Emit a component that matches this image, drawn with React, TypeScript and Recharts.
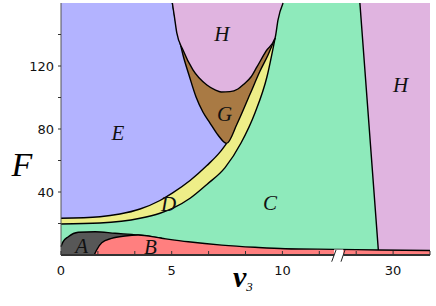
import {
  ComposedChart,
  Area,
  Scatter,
  XAxis,
  YAxis,
  ReferenceArea,
  ReferenceLine,
  Label,
} from "recharts";

// broken v3 axis: 0..12.5 on the left, 22.5..35 after the break
const axisPos = (v: number) => (v <= 12.5 ? v * 0.6 : 9 + (v - 30) / 5);
const breakU = 7.5;

const xTicksV = [0, 5 / 3, 10 / 3, 5, 20 / 3, 25 / 3, 10, 35 / 3, 25, 30, 35];
const xLabelsV = [0, 5, 10, 30];
const yTicks = [20, 40, 60, 80, 100, 120, 140];
const yLabels = [40, 80, 120];

// boundary curves, [v3, F]
const curveDC: [number, number][] = [
  [0, 19.7], [1.76, 20.3], [3.57, 23.3], [4.47, 26.5], [5.06, 29.7], [5.83, 36.0],
  [6.59, 44.8], [7.41, 55.5], [8.13, 71.1], [8.76, 90.2], [9.3, 113.0], [9.67, 137.8],
];
const curveED: [number, number][] = [
  [0, 23.3], [1.76, 24.3], [2.66, 26.0], [3.57, 29.2], [4.47, 34.6], [5.06, 39.6],
  [5.83, 47.3], [6.59, 56.8], [7.18, 65.3], [7.48, 70.9],
];
const curveG: [number, number][] = [
  [5.03, 160], [5.15, 150.5], [5.28, 141.0], [5.51, 127.0], [5.78, 114.3], [6.1, 100.3],
  [6.41, 90.8], [6.73, 83.8], [7.09, 76.2], [7.48, 70.9], [7.95, 83.2], [8.54, 102.2],
  [8.99, 116.8], [9.35, 127.0], [9.67, 137.8],
];
const curveH: [number, number][] = [
  [5.03, 160], [5.13, 150.5], [5.23, 141.0], [5.51, 130.2], [5.96, 117.5], [6.59, 107.9],
  [6.96, 104.8], [7.23, 103.5], [7.63, 103.7], [7.99, 105.4], [8.27, 108.6], [8.58, 113.0],
  [8.85, 119.4], [9.26, 129.5], [9.67, 137.8], [9.8, 149.2], [10.03, 160],
];
const curveHright: [number, number][] = [[25.5, 160], [28.05, 0], [35, 0]];
const curveA: [number, number][] = [
  [0, 5.3], [0.09, 8.3], [0.33, 11.6], [0.78, 14.4], [1.54, 14.8], [2.44, 13.8],
  [3.48, 12.7], [4.55, 10.6],
];
const curveB: [number, number][] = [
  [1.5, 0], [1.61, 3.2], [1.84, 7.8], [2.29, 10.6], [2.89, 12.1], [3.48, 12.7],
  [4.55, 10.6], [5.75, 8.4], [7.26, 6.3], [8.76, 4.9], [10.12, 4.0], [12.5, 3.6],
  [28.05, 3.2], [35, 2.9],
];
const plotTop: [number, number][] = [[0, 160], [35, 160]];

const regionLabels: [string, number, number][] = [
  ["E", 2.57, 77.3],
  ["H", 7.26, 140.3],
  ["G", 7.39, 89.7],
  ["D", 4.86, 32.4],
  ["C", 9.44, 33.0],
  ["A", 0.93, 6.0],
  ["B", 4.04, 5.1],
  ["H", 31.0, 107.9],
];

const COLORS = {
  A: "#575757",
  B: "#ff7f7f",
  C: "#8eeabb",
  D: "#eeee88",
  E: "#b3b3ff",
  G: "#a97a44",
  H: "#e0b4e0",
};

const toSeries = (pts: [number, number][]) => pts.map(([v, f]) => ({ u: axisPos(v), f }));

const xLabel = (u: number) => {
  const v = xLabelsV.find((l) => Math.abs(axisPos(l) - u) < 1e-6);
  return v === undefined ? "" : String(v);
};

const XTick = (props: any) => {
  const { x, y, payload } = props;
  return (
    <g>
      <line x1={x} x2={x} y1={y - 4} y2={y} stroke="#333" strokeWidth={1} />
      <text x={x} y={y + 20} textAnchor="middle" fontFamily="DejaVu Sans" fontSize={13} fill="#111">
        {xLabel(payload.value)}
      </text>
    </g>
  );
};

const serif = "'Liberation Serif', 'Times New Roman', serif";

const RegionText = (props: any) => (
  <text
    x={props.cx}
    y={props.cy}
    textAnchor="middle"
    dominantBaseline="central"
    fontFamily={serif}
    fontStyle="italic"
    fontSize={21}
    fill="#111"
  >
    {props.payload.name}
  </text>
);

const lineStyle = { stroke: "#000", strokeWidth: 1.4 };

export default function App() {
  const labels = regionLabels.map(([name, v, f]) => ({ u: axisPos(v), f, name }));
  const area = (key: string, pts: [number, number][], fill: string, base: any, linear = false) => (
    <Area
      key={key}
      data={toSeries(pts)}
      dataKey="f"
      type={linear ? "linear" : "monotone"}
      baseValue={base}
      fill={fill}
      fillOpacity={1}
      {...lineStyle}
      dot={false}
      activeDot={false}
      isAnimationActive={false}
    />
  );

  return (
    <div style={{ position: "absolute", left: 0, top: 0 }}>
      <ComposedChart width={436} height={306} margin={{ top: 3, right: 6, bottom: 21, left: 0 }}>
        <Area
          data={toSeries(plotTop)}
          dataKey="f"
          type="linear"
          fill={COLORS.C}
          fillOpacity={1}
          stroke="none"
          isAnimationActive={false}
        />
        {area("D", curveDC, COLORS.D, "dataMax")}
        {area("E", curveED, COLORS.E, "dataMax")}
        {area("G", curveG, COLORS.G, "dataMax")}
        {area("H", curveH, COLORS.H, "dataMax")}
        {area("Hr", curveHright, COLORS.H, "dataMax", true)}
        {area("A", curveA, COLORS.A, 0)}
        {area("B", curveB, COLORS.B, 0)}
        <XAxis
          type="number"
          dataKey="u"
          domain={[0, 10]}
          ticks={xTicksV.map(axisPos)}
          interval={0}
          height={30}
          tickSize={0}
          tickMargin={0}
          tickLine={false}
          tick={<XTick />}
          axisLine={{ stroke: "#333", strokeWidth: 2 }}
        >
          <Label
            content={(p: any) => {
              const vb = p.viewBox;
              return (
                <text x={vb.x + 172} y={vb.y + 32} fontFamily={serif} fontStyle="italic" fill="#000">
                  <tspan fontSize={30} fontWeight="bold">v</tspan>
                  <tspan fontSize={13} dy={4}>3</tspan>
                </text>
              );
            }}
          />
        </XAxis>
        <YAxis
          type="number"
          domain={[0, 160]}
          ticks={yTicks}
          interval={0}
          width={61}
          tickSize={3}
          tickMargin={4}
          tickFormatter={(v: number) => (yLabels.includes(v) ? String(v) : "")}
          tick={{ fontFamily: "DejaVu Sans", fontSize: 13, fill: "#111" }}
          tickLine={{ stroke: "#333" }}
          axisLine={{ stroke: "#555" }}
        >
          <Label
            content={(p: any) => {
              const vb = p.viewBox;
              return (
                <text x={vb.x + 22} y={vb.y + 173} textAnchor="middle" fontFamily={serif} fontStyle="italic" fontSize={34} fill="#000">
                  F
                </text>
              );
            }}
          />
        </YAxis>
        <ReferenceArea
          x1={breakU - 0.1}
          x2={breakU + 0.15}
          y1={-1.5}
          y2={3.5}
          fill="#fff"
          fillOpacity={1}
          stroke="none"
          ifOverflow="visible"
          zIndex={700}
        />
        <ReferenceLine
          segment={[{ x: breakU - 0.164, y: -4.25 }, { x: breakU - 0.047, y: 3.17 }]}
          stroke="#222"
          strokeWidth={1}
          ifOverflow="visible"
          zIndex={700}
        />
        <ReferenceLine
          segment={[{ x: breakU + 0.088, y: -4.25 }, { x: breakU + 0.196, y: 3.17 }]}
          stroke="#222"
          strokeWidth={1}
          ifOverflow="visible"
          zIndex={700}
        />
        <Scatter data={labels} dataKey="f" shape={<RegionText />} isAnimationActive={false} />
      </ComposedChart>
    </div>
  );
}
